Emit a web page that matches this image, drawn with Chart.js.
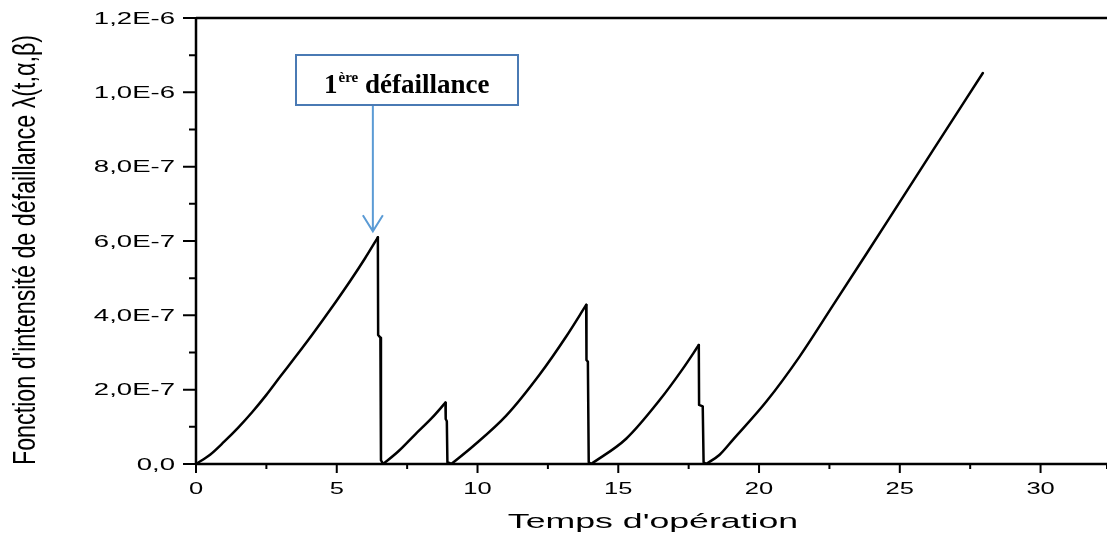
<!DOCTYPE html>
<html>
<head>
<meta charset="utf-8">
<title>Fonction d'intensité de défaillance</title>
<script src="https://cdn.jsdelivr.net/npm/chart.js@4.4.1/dist/chart.umd.min.js"></script>
<style>
  html, body { margin: 0; padding: 0; background: #fff; }
  canvas { display: block; }
</style>
</head>
<body>
<canvas id="intensity-chart" width="1107" height="536"></canvas>
<script>
// Temps d'opération (x) and λ(t,α,β) in units of 1E-7 (y).
// Rising branches between repairs
const seg1Temps = [0, 0.5, 1, 1.5, 2, 2.5, 3, 3.5, 4, 4.5, 5, 5.5, 6, 6.46];
const seg1Lambda = [0, 0.25, 0.6, 0.98, 1.4, 1.86, 2.36, 2.85, 3.35, 3.87, 4.4, 4.95, 5.53, 6.10];
const seg2Temps = [6.65, 7.2, 7.79, 8.38, 8.86];
const seg2Lambda = [0, 0.35, 0.8, 1.24, 1.65];
const seg3Temps = [9.07, 9.83, 11.02, 12.2, 13.15, 13.86];
const seg3Lambda = [0, 0.47, 1.3, 2.4, 3.43, 4.28];
const seg4Temps = [14.04, 15.28, 16.47, 17.29, 17.86];
const seg4Lambda = [0, 0.68, 1.72, 2.56, 3.20];
const seg5Temps = [18.12, 18.6, 19.07, 20.26, 21.44, 22.62, 23.81, 24.99, 26.17, 27.95];
const seg5Lambda = [0, 0.25, 0.65, 1.68, 2.89, 4.26, 5.65, 7.04, 8.43, 10.52];

// Drops at each failure (null breaks the line between two drops)
const chuteTemps = [
  6.46, 6.47, 6.55, 6.57, 6.65, null,
  8.86, 8.87, 8.91, 8.93, 9.07, null,
  13.86, 13.87, 13.92, 13.95, 14.04, null,
  17.86, 17.87, 18.0, 18.03, 18.12
];
const chuteLambda = [
  6.10, 3.47, 3.40, 0.10, 0, null,
  1.65, 1.21, 1.15, 0.05, 0, null,
  4.28, 2.80, 2.75, 0.05, 0, null,
  3.20, 1.59, 1.55, 0.05, 0
];

// axes
const xMin = 0, xMax = 32.36, xStep = 2.5, xMajor = 5;
const yMin = 0, yMax = 1.2e-6, yStep = 1e-7, yMajor = 2e-7;
const xTitle = "Temps d'opération";
const yTitle = "Fonction d'intensité de défaillance λ(t,α,β)";

// annotation (points at the end of the first branch)
const annotationMain = '1';
const annotationSup = 'ère';
const annotationRest = ' défaillance';

function toPoints(ts, ls) {
  return ts.map((t, i) => (t === null ? { x: null, y: null } : { x: t, y: ls[i] * 1e-7 }));
}

function formatTick(v) {
  if (Math.abs(v) < 1e-12) return '0,0';
  return v.toExponential(1).replace('.', ',').replace('e', 'E');
}

function isMajor(v, step) {
  return Math.abs(v / step - Math.round(v / step)) < 1e-6;
}

// draws text stretched horizontally like the original export
function stretchedText(ctx, text, x, y, sx, align) {
  ctx.save();
  ctx.translate(x, y);
  ctx.scale(sx, 1);
  ctx.textAlign = align;
  ctx.fillText(text, 0, 0);
  ctx.restore();
}

const decorPlugin = {
  id: 'decor',
  afterDraw(chart) {
    const { ctx, chartArea: a } = chart;
    const xs = chart.scales.x, ys = chart.scales.y;
    ctx.save();

    // frame: left, bottom and top lines
    ctx.strokeStyle = '#000';
    ctx.lineWidth = 2.5;
    ctx.beginPath();
    ctx.moveTo(a.left, a.top); ctx.lineTo(a.right, a.top);
    ctx.moveTo(a.left, a.top - 1); ctx.lineTo(a.left, a.bottom + 1);
    ctx.moveTo(a.left, a.bottom); ctx.lineTo(a.right, a.bottom);
    ctx.stroke();

    // tick marks
    ctx.lineWidth = 2;
    ctx.beginPath();
    xs.ticks.forEach(t => {
      const px = xs.getPixelForValue(t.value);
      ctx.moveTo(px, a.bottom);
      ctx.lineTo(px, a.bottom + (isMajor(t.value, xMajor) ? 9 : 5));
    });
    ys.ticks.forEach(t => {
      const py = ys.getPixelForValue(t.value);
      ctx.moveTo(a.left, py);
      ctx.lineTo(a.left - (isMajor(t.value, yMajor) ? 13 : 7), py);
    });
    ctx.stroke();

    // tick labels
    ctx.fillStyle = '#000';
    ctx.font = '17px "Liberation Sans", Arial, sans-serif';
    ctx.textBaseline = 'alphabetic';
    xs.ticks.forEach(t => {
      if (!isMajor(t.value, xMajor)) return;
      stretchedText(ctx, String(t.value), xs.getPixelForValue(t.value), a.bottom + 30, 1.5, 'center');
    });
    ctx.textBaseline = 'middle';
    ys.ticks.forEach(t => {
      if (!isMajor(t.value, yMajor)) return;
      stretchedText(ctx, formatTick(t.value), a.left - 21, ys.getPixelForValue(t.value) + 1, 1.62, 'right');
    });

    // axis titles
    ctx.font = '20.5px "Liberation Sans", Arial, sans-serif';
    ctx.textBaseline = 'alphabetic';
    stretchedText(ctx, xTitle, 653, 528, 1.74, 'center');

    ctx.save();
    ctx.font = '23.3px "Liberation Sans", Arial, sans-serif';
    ctx.translate(26.5, 250);
    ctx.rotate(-Math.PI / 2);
    ctx.scale(1, 1.35);
    ctx.textAlign = 'center';
    ctx.textBaseline = 'middle';
    ctx.fillText(yTitle, 0, 0);
    ctx.restore();

    // annotation box + arrow to the first failure peak
    const last = seg1Temps.length - 1;
    const peakX = xs.getPixelForValue(seg1Temps[last]);
    const peakY = ys.getPixelForValue(seg1Lambda[last] * 1e-7);
    const box = { left: 296, top: 55, right: 518, bottom: 105 };
    ctx.fillStyle = '#fff';
    ctx.fillRect(box.left, box.top, box.right - box.left, box.bottom - box.top);
    ctx.strokeStyle = '#4a7ab4';
    ctx.lineWidth = 2;
    ctx.strokeRect(box.left, box.top, box.right - box.left, box.bottom - box.top);

    const arrowX = peakX - 5;
    const tipY = peakY - 6;
    ctx.strokeStyle = '#5b9bd5';
    ctx.lineWidth = 2;
    ctx.beginPath();
    ctx.moveTo(arrowX, box.bottom + 1);
    ctx.lineTo(arrowX, tipY);
    ctx.moveTo(arrowX - 10, tipY - 16);
    ctx.lineTo(arrowX, tipY);
    ctx.lineTo(arrowX + 10, tipY - 16);
    ctx.stroke();

    ctx.fillStyle = '#000';
    ctx.textAlign = 'left';
    ctx.textBaseline = 'alphabetic';
    ctx.font = 'bold 27px "Liberation Serif", "Times New Roman", serif';
    let tx = 324;
    ctx.fillText(annotationMain, tx, 93);
    tx += ctx.measureText(annotationMain).width + 1;
    ctx.font = 'bold 15px "Liberation Serif", "Times New Roman", serif';
    ctx.fillText(annotationSup, tx, 82);
    tx += ctx.measureText(annotationSup).width;
    ctx.font = 'bold 27px "Liberation Serif", "Times New Roman", serif';
    ctx.fillText(annotationRest, tx, 93);

    ctx.restore();
  }
};

const lineStyle = {
  showLine: true,
  borderColor: '#000',
  borderWidth: 2.5,
  borderCapStyle: 'round',
  borderJoinStyle: 'round',
  pointRadius: 0,
  pointHoverRadius: 0
};

const branches = [
  [seg1Temps, seg1Lambda], [seg2Temps, seg2Lambda], [seg3Temps, seg3Lambda],
  [seg4Temps, seg4Lambda], [seg5Temps, seg5Lambda]
];

const datasets = branches.map(([ts, ls], i) => ({
  ...lineStyle,
  label: 'λ(t,α,β) ' + (i + 1),
  data: toPoints(ts, ls),
  cubicInterpolationMode: 'monotone'
}));
datasets.push({
  ...lineStyle,
  label: 'défaillances',
  data: toPoints(chuteTemps, chuteLambda),
  tension: 0,
  spanGaps: false
});

new Chart(document.getElementById('intensity-chart'), {
  type: 'scatter',
  data: { datasets },
  options: {
    responsive: false,
    animation: false,
    events: [],
    layout: { padding: { top: 18, left: 0, right: 0, bottom: 0 } },
    plugins: {
      legend: { display: false },
      tooltip: { enabled: false }
    },
    scales: {
      x: {
        type: 'linear',
        min: xMin,
        max: xMax,
        ticks: { stepSize: xStep, display: false },
        grid: { display: false, drawTicks: false },
        border: { display: false },
        afterFit(scale) { scale.height = 72; }
      },
      y: {
        type: 'linear',
        min: yMin,
        max: yMax,
        ticks: { stepSize: yStep, display: false },
        grid: { display: false, drawTicks: false },
        border: { display: false },
        afterFit(scale) { scale.width = 196; }
      }
    }
  },
  plugins: [decorPlugin]
});
</script>
</body>
</html>
